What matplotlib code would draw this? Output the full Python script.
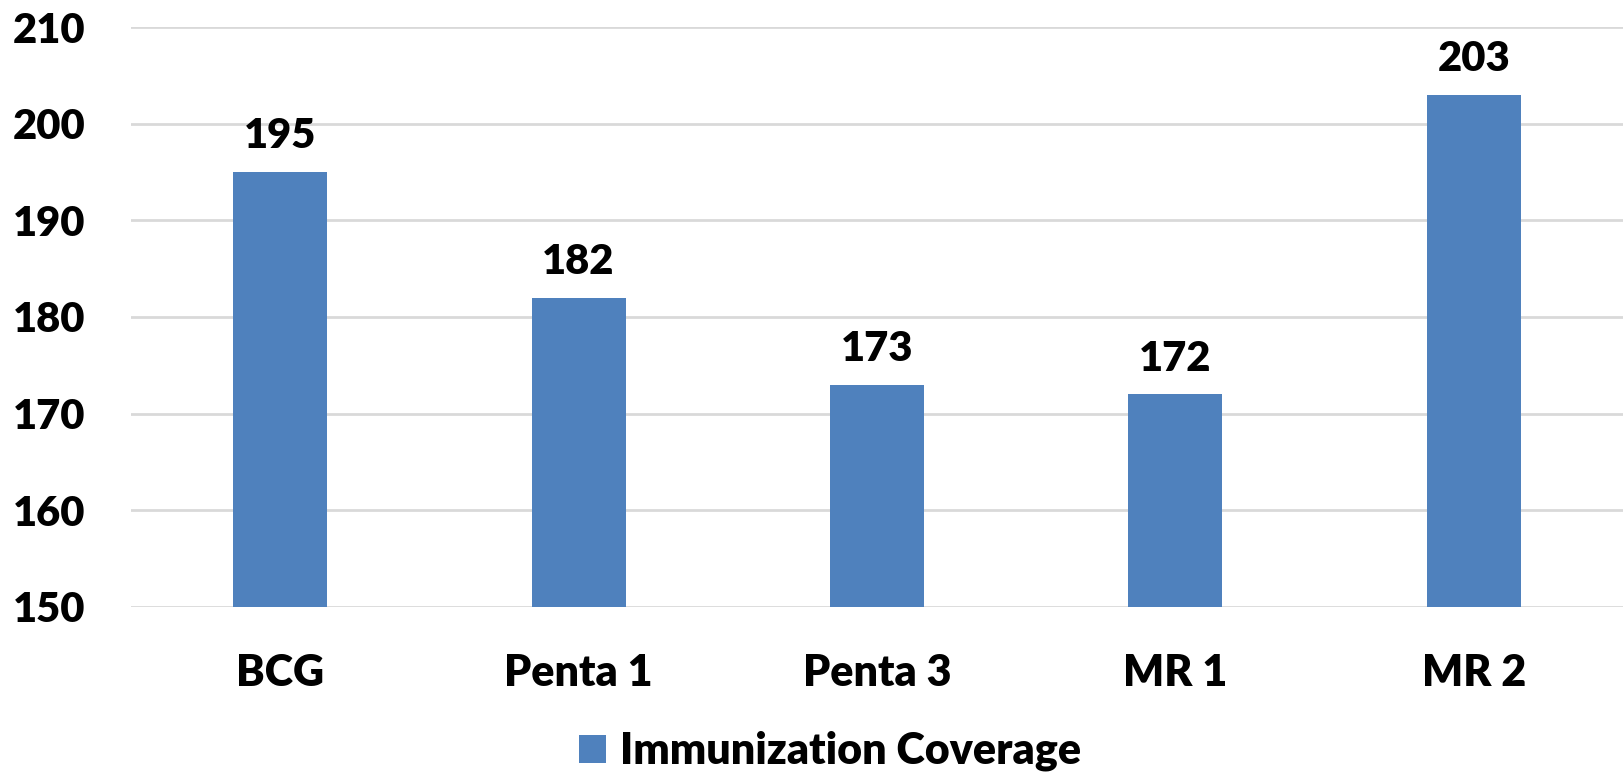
import matplotlib.pyplot as plt

# Data
categories = ['BCG', 'Penta 1', 'Penta 3', 'MR 1', 'MR 2']
coverage = [195, 182, 173, 172, 203]
series_name = 'Immunization Coverage'

plt.rcParams['font.family'] = ['Lato', 'DejaVu Sans']
plt.rcParams['font.weight'] = 'heavy'

fig = plt.figure(figsize=(16.23, 7.73), dpi=100)
ax = fig.add_axes([131 / 1623, 1 - 607 / 773, 1 - 131 / 1623, (607 - 27) / 773])

x = range(len(categories))
bars = ax.bar(x, coverage, width=0.315, color='#4F81BD', label=series_name, zorder=2)

for rect, v in zip(bars, coverage):
    ax.annotate(str(v), (rect.get_x() + rect.get_width() / 2, v),
                xytext=(0, 12), textcoords='offset points',
                ha='center', va='bottom', fontsize=30, fontweight='heavy')

ax.set_xlim(-0.5, len(categories) - 0.5)
ax.set_ylim(150, 210)
ax.set_yticks(range(150, 211, 10))
ax.set_xticks(list(x))
ax.set_xticklabels(categories)

ax.grid(axis='y', color='#D9D9D9', linewidth=2, zorder=0)
for s in ax.spines.values():
    s.set_visible(False)
ax.tick_params(axis='y', length=0, pad=33, labelsize=30)
ax.tick_params(axis='x', length=0, pad=33, labelsize=31)
for lab in ax.get_xticklabels() + ax.get_yticklabels():
    lab.set_fontweight('heavy')

fig.legend(loc='center', bbox_to_anchor=(830 / 1623, 1 - 751 / 773),
           frameon=False, handlelength=0.63, handleheight=0.62,
           handletextpad=0.33, prop={'weight': 'heavy', 'size': 31})

fig.savefig('out.png', dpi=100)
